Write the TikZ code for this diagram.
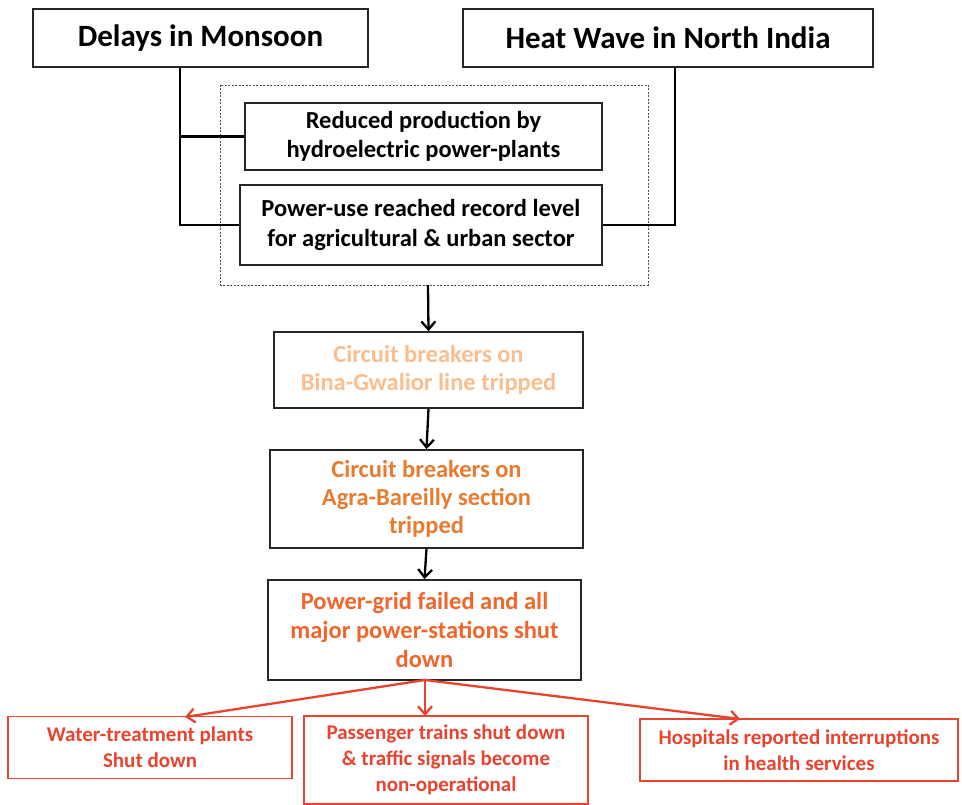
\documentclass[tikz,border=0pt]{standalone}
\usepackage{fontspec}
\setmainfont{Carlito}
\usetikzlibrary{arrows.meta}
\definecolor{lightorange}{HTML}{F8BE8F}
\definecolor{midorange}{HTML}{E97B30}
\definecolor{deeporange}{HTML}{F0652A}
\definecolor{alertred}{HTML}{E8432F}
\tikzset{
  box/.style={draw=black!85, line width=1.6pt, align=center, inner sep=0pt, font=\bfseries},
  redbox/.style={draw=alertred, line width=1.1pt, align=center, inner sep=0pt, font=\bfseries\fontsize{21}{26}\selectfont, text=alertred},
  link/.style={line width=2.3pt, black},
  flow/.style={line width=2.3pt, black, -{Straight Barb[length=8pt,width=14pt,line width=2.3pt]}},
  redflow/.style={line width=2.3pt, alertred, -{Straight Barb[length=8pt,width=14pt,line width=2.3pt]}},
}
\begin{document}
\begin{tikzpicture}[x=1pt,y=-1pt]
\useasboundingbox (0,0) rectangle (962,805);

% causes
\node[box, minimum width=335, minimum height=58, font=\bfseries\fontsize{31}{34}\selectfont] (monsoon) at (200.5,38) {Delays in Monsoon};
\node[box, minimum width=410, minimum height=58, font=\bfseries\fontsize{31}{34}\selectfont] (heat) at (668,38) {Heat Wave in North India};

% grouped effects
\draw[black!70, line width=0.9pt, dash pattern=on 2pt off 1.5pt] (220,85) rectangle (648,285);
\coordinate (grpbot) at (428,285);
\node[box, minimum width=357, minimum height=67, font=\bfseries\fontsize{24.5}{29}\selectfont] (hydro) at (423.5,136.5) {Reduced production by\\hydroelectric power-plants};
\node[box, minimum width=362, minimum height=80, font=\bfseries\fontsize{24.5}{30}\selectfont] (demand) at (421,225) {Power-use reached record level\\for agricultural \& urban sector};

% feeder lines
\coordinate (lx) at (180,66);
\draw[link] (monsoon.south -| lx) |- (demand.west);
\draw[link] (lx |- hydro.west) -- (hydro.west);
\coordinate (rx) at (675,66);
\draw[link] (heat.south -| rx) |- (demand.east);

% cascade
\node[box, minimum width=309, minimum height=76, font=\bfseries\fontsize{24.5}{28}\selectfont, text=lightorange] (bina) at (428.5,370) {Circuit breakers on\\Bina-Gwalior line tripped};
\node[box, minimum width=313, minimum height=98, font=\bfseries\fontsize{24.5}{28}\selectfont, text=midorange] (agra) at (426.5,499) {Circuit breakers on\\Agra-Bareilly section\\tripped};
\node[box, minimum width=313, minimum height=100, font=\bfseries\fontsize{24.5}{29}\selectfont, text=deeporange] (grid) at (424.5,630) {Power-grid failed and all\\major power-stations shut\\down};

\draw[flow] (grpbot) -- (bina.north);
\draw[flow] (bina.south) -- (agra.north);
\draw[flow] (agra.south) -- (grid.north);

% consequences
\node[redbox, minimum width=284, minimum height=62] (water) at (150,747.5) {Water-treatment plants\\Shut down};
\node[redbox, minimum width=284, minimum height=88] (trains) at (446,760) {Passenger trains shut down\\\& traffic signals become\\non-operational};
\node[redbox, minimum width=318, minimum height=62] (hosp) at (799,750) {Hospitals reported interruptions\\in health services};

\coordinate (fan) at (425,680);
\draw[redflow] (fan) -- (185,717);
\draw[redflow] (fan) -- (425,716);
\draw[redflow] (fan) -- (740,719);
\end{tikzpicture}
\end{document}
